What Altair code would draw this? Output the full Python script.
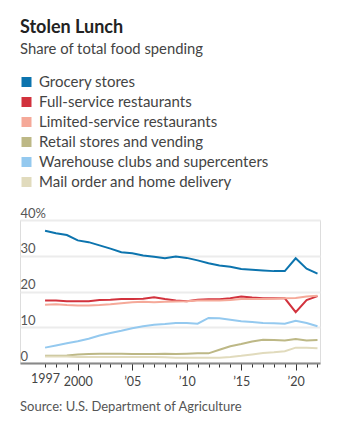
import altair as alt
import pandas as pd

years = list(range(1997, 2023))
categories = [
    "Grocery stores",
    "Full-service restaurants",
    "Limited-service restaurants",
    "Retail stores and vending",
    "Warehouse clubs and supercenters",
    "Mail order and home delivery",
]
colors = ["#0c74ae", "#d2323d", "#f5a999", "#bdb886", "#94c9ef", "#e1dbbd"]

grocery = [37.0, 36.3, 35.8, 34.3, 33.8, 32.9, 32.0, 31.0, 30.7, 30.1, 29.7, 29.3, 29.8,
           29.4, 28.7, 27.9, 27.3, 26.9, 26.3, 26.1, 25.9, 25.7, 25.7, 29.3, 26.4, 25.0]
full_service = [17.5, 17.5, 17.3, 17.3, 17.3, 17.6, 17.7, 17.9, 17.9, 18.0, 18.4, 17.9, 17.5,
                17.3, 17.7, 17.8, 17.8, 18.1, 18.6, 18.3, 18.1, 18.1, 18.1, 14.2, 17.6, 18.7]
limited_service = [16.3, 16.4, 16.2, 16.1, 16.1, 16.2, 16.4, 16.7, 17.0, 17.1, 17.0, 17.1, 17.2,
                   17.3, 17.5, 17.5, 17.5, 17.6, 17.9, 17.9, 17.9, 18.0, 18.1, 18.2, 18.6, 18.8]
retail = [2.0, 2.0, 2.1, 2.4, 2.5, 2.6, 2.6, 2.6, 2.5, 2.5, 2.5, 2.6, 2.5,
          2.6, 2.7, 2.7, 3.7, 4.7, 5.3, 6.0, 6.5, 6.4, 6.3, 6.7, 6.3, 6.4]
warehouse = [4.3, 4.9, 5.5, 6.1, 6.8, 7.7, 8.4, 9.0, 9.7, 10.3, 10.7, 10.9, 11.2,
             11.2, 11.0, 12.6, 12.5, 12.1, 11.7, 11.5, 11.2, 11.1, 11.0, 11.8, 11.2, 10.3]
mail = [1.8, 1.8, 1.8, 1.7, 1.7, 1.7, 1.7, 1.7, 1.7, 1.7, 1.7, 1.6, 1.5,
        1.5, 1.5, 1.5, 1.5, 1.7, 2.0, 2.4, 2.8, 3.0, 3.3, 4.3, 4.3, 4.1]

series = [grocery, full_service, limited_service, retail, warehouse, mail]
rows = []
for cat, vals in zip(categories, series):
    for y, v in zip(years, vals):
        rows.append({"year": y, "share": v, "category": cat})
df = pd.DataFrame(rows)
legend_df = pd.DataFrame({"category": categories})

title_text = "Stolen Lunch"
subtitle_text = "Share of total food spending"
source_text = "Source: U.S. Department of Agriculture"

FONT = "Lato"
W, H = 300, 143

color_scale = alt.Scale(domain=categories, range=colors)

x_enc = alt.X(
    "year:Q",
    scale=alt.Scale(domain=[1994.7, 2022.23], nice=False, zero=False),
    axis=alt.Axis(
        title=None,
        values=years,
        labelExpr="datum.value == 1997 ? '1997' : datum.value == 2000 ? '2000' : datum.value % 5 == 0 ? '\u2019' + substring(toString(datum.value), 2, 4) : ''",
        labelOverlap=False,
        labelFlush=False,
        labelBound=False,
        tickSize=alt.condition("datum.value % 5 == 0", alt.value(7), alt.value(4)),
        tickColor="#333333",
        tickWidth=1,
        domainColor="#888888",
        domainWidth=2,
        labelFont=FONT,
        labelFontSize=12.5,
        labelColor="#444444",
        labelPadding=5,
        grid=False,
    ),
)

y_enc = alt.Y(
    "share:Q",
    scale=alt.Scale(domain=[0, 40], nice=False),
    axis=alt.Axis(
        title=None,
        values=[0, 10, 20, 30, 40],
        labelExpr="datum.value == 40 ? '40%' : datum.label",
        labelAlign="left",
        labelBaseline="alphabetic",
        labelPadding=0,
        labelOffset=-3,
        ticks=False,
        domain=False,
        grid=True,
        gridColor="#ececec",
        gridWidth=2,
        labelFont=FONT,
        labelFontSize=13,
        labelColor="#555555",
    ),
)

lines = alt.Chart(df).mark_line(strokeWidth=2).encode(
    x=x_enc,
    y=y_enc,
    color=alt.Color("category:N", scale=color_scale, legend=None),
    order=alt.Order("category:N"),
)

leg_y = alt.Y(
    "category:N",
    sort=categories,
    scale=alt.Scale(type="point", domain=categories, range=[-138, -38], padding=0),
    axis=None,
)

leg_sq = alt.Chart(legend_df).mark_square(size=100, opacity=1).encode(
    y=leg_y,
    x=alt.value(6.5),
    color=alt.Color("category:N", scale=color_scale, legend=None),
)

leg_txt = alt.Chart(legend_df).mark_text(
    align="left", baseline="middle", font=FONT, fontSize=15, color="#444444"
).encode(y=leg_y, x=alt.value(19), text="category:N")

src = alt.Chart(pd.DataFrame({"t": [source_text]})).mark_text(
    align="left", baseline="alphabetic", font=FONT, fontSize=13, color="#555555"
).encode(text="t:N", x=alt.value(0), y=alt.value(H + 48))

chart = alt.layer(lines, leg_sq, leg_txt, src).resolve_scale(y="independent").properties(
    width=W,
    height=H,
    autosize=alt.AutoSizeParams(type="none"),
    padding={"left": 20, "top": 220, "right": 18, "bottom": 61},
    title=alt.TitleParams(
        text=title_text,
        subtitle=subtitle_text,
        anchor="start",
        frame="group",
        font=FONT,
        fontSize=18,
        fontWeight="bold",
        color="#222222",
        subtitleFont=FONT,
        subtitleFontSize=14.8,
        subtitleColor="#444444",
        subtitlePadding=5,
        offset=18,
    ),
).configure_view(stroke=None).configure(background="white")

chart.save("out.html", embed_options={"renderer": "svg", "actions": False})
